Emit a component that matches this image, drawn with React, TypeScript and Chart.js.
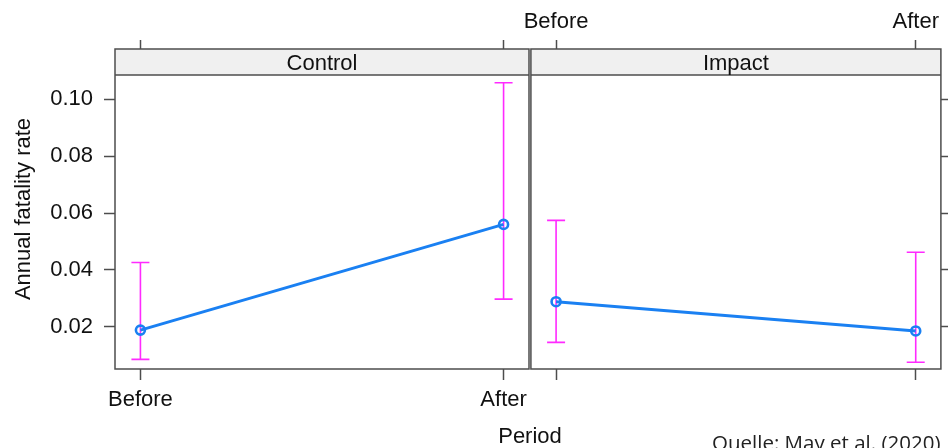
import React, { useEffect, useRef } from 'react';
import { Chart, registerables } from 'chart.js';

Chart.register(...registerables);

// ---- data ----
const categories = ['Before', 'After'];
const panels = ['Control', 'Impact'];
const controlRate = [0.0188, 0.056];
const controlLower = [0.0085, 0.0297];
const controlUpper = [0.0426, 0.1058];
const impactRate = [0.0288, 0.0185];
const impactLower = [0.0145, 0.0075];
const impactUpper = [0.0574, 0.0462];
const yTicks = [0.02, 0.04, 0.06, 0.08, 0.1];
const yLabel = 'Annual fatality rate';
const xLabel = 'Period';
const sourceNote = 'Quelle: May et al. (2020)';

// ---- style ----
const FONT = "'Liberation Sans', Arial, Helvetica, sans-serif";
const AXIS = '#4d4d4d';
const TEXT = '#111111';
const BLUE = '#1a80f2';
const MAGENTA = '#ff2aff';
const Y_MIN = 0.00512;
const Y_MAX = 0.1177;
const X_MIN = -0.07;
const X_MAX = 1.07;
const STRIP_H = 26;

function makePanelPlugin(label: string, lower: number[], upper: number[]) {
  return {
    id: 'panel_' + label,
    beforeDatasetsDraw(chart: any) {
      const { ctx, scales } = chart;
      ctx.save();
      ctx.strokeStyle = MAGENTA;
      ctx.lineWidth = 1.6;
      lower.forEach((lo, i) => {
        const x = scales.x.getPixelForValue(i);
        const y1 = scales.y.getPixelForValue(lo);
        const y2 = scales.y.getPixelForValue(upper[i]);
        ctx.beginPath();
        ctx.moveTo(x, y1);
        ctx.lineTo(x, y2);
        ctx.moveTo(x - 9, y1);
        ctx.lineTo(x + 9, y1);
        ctx.moveTo(x - 9, y2);
        ctx.lineTo(x + 9, y2);
        ctx.stroke();
      });
      ctx.restore();
    },
    afterDraw(chart: any) {
      const { ctx, chartArea: a } = chart;
      ctx.save();
      ctx.fillStyle = '#f0f0f0';
      ctx.fillRect(a.left, a.top, a.right - a.left, STRIP_H);
      ctx.strokeStyle = AXIS;
      ctx.lineWidth = 1.5;
      ctx.beginPath();
      ctx.moveTo(a.left, a.top + STRIP_H);
      ctx.lineTo(a.right, a.top + STRIP_H);
      ctx.stroke();
      ctx.strokeRect(a.left, a.top, a.right - a.left, a.bottom - a.top);
      ctx.fillStyle = TEXT;
      ctx.font = '22px ' + FONT;
      ctx.textAlign = 'center';
      ctx.textBaseline = 'middle';
      ctx.fillText(label, (a.left + a.right) / 2, a.top + STRIP_H / 2 + 2);
      ctx.restore();
    },
  };
}

function buildChart(canvas: HTMLCanvasElement, idx: number) {
  const isLeft = idx === 0;
  const rate = isLeft ? controlRate : impactRate;
  const lower = isLeft ? controlLower : impactLower;
  const upper = isLeft ? controlUpper : impactUpper;
  const font = { family: FONT, size: 22 };
  const catTicks = (s: any) => {
    s.ticks = categories.map((_, i) => ({ value: i }));
  };
  const grid = (len: number) => ({
    drawOnChartArea: false,
    drawTicks: true,
    tickLength: len,
    tickColor: AXIS,
    tickWidth: 1.5,
  });
  return new Chart(canvas, {
    type: 'line',
    data: {
      datasets: [
        {
          data: categories.map((_, i) => ({ x: i, y: rate[i] })),
          borderColor: BLUE,
          borderWidth: 3,
          pointRadius: 4.5,
          pointBorderWidth: 2.6,
          pointBorderColor: BLUE,
          pointBackgroundColor: 'rgba(0,0,0,0)',
          tension: 0,
          clip: false as any,
        },
      ],
    },
    options: {
      responsive: false,
      animation: false,
      events: [],
      layout: {
        padding: isLeft
          ? { left: 0, right: 11, top: 0, bottom: 0 }
          : { left: 11, right: 0, top: 0, bottom: 0 },
      },
      plugins: { legend: { display: false }, tooltip: { enabled: false } },
      scales: {
        x: {
          type: 'linear',
          position: 'bottom',
          min: X_MIN,
          max: X_MAX,
          afterBuildTicks: catTicks,
          afterFit: (s: any) => {
            s.height = 79;
          },
          ticks: {
            display: isLeft,
            callback: (v: any) => categories[v] ?? '',
            font,
            color: TEXT,
            padding: 7,
            maxRotation: 0,
            autoSkip: false,
          },
          grid: grid(11),
          border: { display: false },
        },
        xTop: {
          type: 'linear',
          position: 'top',
          min: X_MIN,
          max: X_MAX,
          afterBuildTicks: catTicks,
          afterFit: (s: any) => {
            s.height = 49;
          },
          ticks: {
            display: !isLeft,
            callback: (v: any) => categories[v] ?? '',
            font,
            color: TEXT,
            padding: 5,
            maxRotation: 0,
            autoSkip: false,
          },
          grid: grid(9),
          border: { display: false },
        },
        y: {
          type: 'linear',
          position: isLeft ? 'left' : 'right',
          min: Y_MIN,
          max: Y_MAX,
          afterBuildTicks: (s: any) => {
            s.ticks = yTicks.map((v) => ({ value: v }));
          },
          afterFit: (s: any) => {
            s.width = isLeft ? 115 : 5;
          },
          ticks: {
            display: isLeft,
            callback: (v: any) => Number(v).toFixed(2),
            font,
            color: TEXT,
            padding: 11,
          },
          title: {
            display: isLeft,
            text: yLabel,
            font,
            color: TEXT,
            padding: { top: 11, bottom: 0 },
          },
          grid: grid(11),
          border: { display: false },
        },
      },
    } as any,
    plugins: [makePanelPlugin(panels[idx], lower, upper)],
  });
}

export default function App() {
  const leftRef = useRef<HTMLCanvasElement>(null);
  const rightRef = useRef<HTMLCanvasElement>(null);
  useEffect(() => {
    const c1 = buildChart(leftRef.current!, 0);
    const c2 = buildChart(rightRef.current!, 1);
    return () => {
      c1.destroy();
      c2.destroy();
    };
  }, []);
  return (
    <div
      style={{
        position: 'fixed',
        left: 0,
        top: 0,
        width: 948,
        height: 448,
        overflow: 'hidden',
        background: '#ffffff',
      }}
    >
      <canvas
        ref={leftRef}
        width={540}
        height={448}
        style={{ position: 'absolute', left: 0, top: 0, width: 540, height: 448 }}
      />
      <canvas
        ref={rightRef}
        width={430}
        height={448}
        style={{ position: 'absolute', left: 518, top: 0, width: 430, height: 448 }}
      />
      <div
        style={{
          position: 'absolute',
          left: 430,
          width: 200,
          top: 425,
          textAlign: 'center',
          fontFamily: FONT,
          fontSize: 22,
          lineHeight: '22px',
          color: TEXT,
        }}
      >
        {xLabel}
      </div>
      <div
        style={{
          position: 'absolute',
          left: 712,
          top: 432,
          whiteSpace: 'nowrap',
          fontFamily: "'Open Sans', sans-serif",
          fontSize: 20.5,
          lineHeight: '20px',
          color: '#222222',
        }}
      >
        {sourceNote}
      </div>
    </div>
  );
}
